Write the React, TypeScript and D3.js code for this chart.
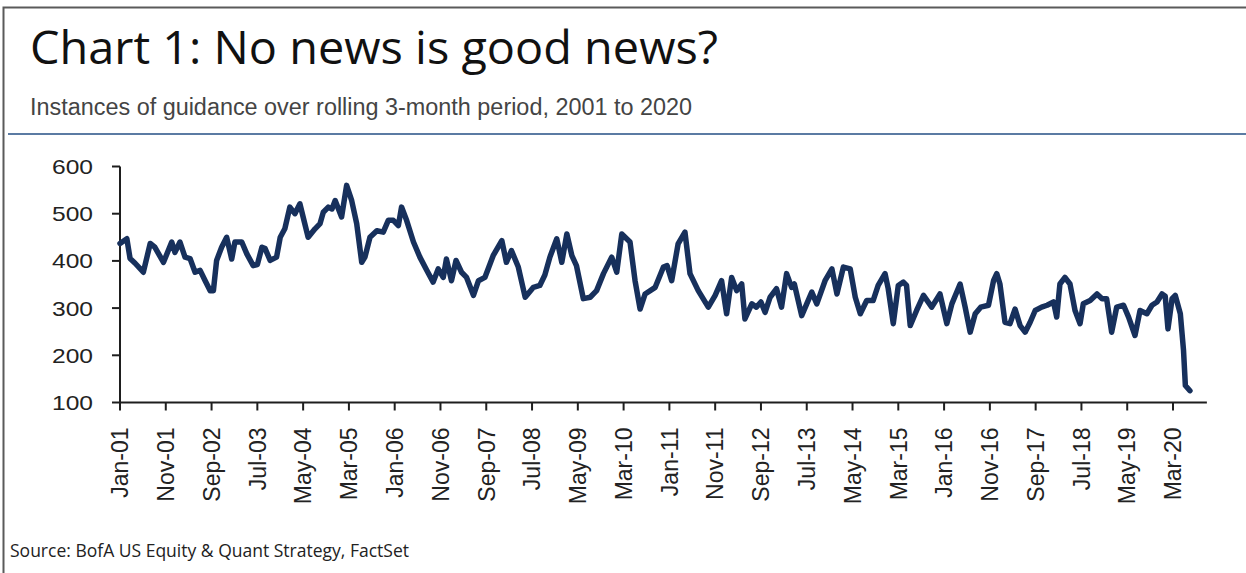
import React from "react";
import * as d3 from "d3";

// Months since Jan-2001 (fractional) and the guidance counts
const months = [
  0, 1.5, 2.2, 3.3, 5.1, 6.6, 7.6, 9.5, 11.3, 12, 13.1, 14.2, 15.3, 16.4, 17.5, 18.6, 19.7, 20.4,
  21.1, 22.2, 23.3, 24.4, 25.1, 26.6, 27.7, 29.1, 30, 31, 31.7, 32.8, 34.2, 35, 36, 37.1, 38.2,
  39.3, 40, 41.1, 42.6, 43.7, 44.4, 45.5, 46.3, 47, 48.4, 49.5, 50.6, 51.7, 52.8, 53.5, 54.6,
  56.1, 57.5, 58.6, 59.7, 60.8, 61.5, 62.6, 64.1, 65.5, 67, 68.4, 69.5, 70.6, 71.3, 72.4, 73.4,
  74.6, 75.7, 77.2, 78.3, 79.7, 81.5, 83.4, 84.4, 85.5, 87, 88.5, 90.3, 91.7, 92.8, 93.9, 95.4,
  96.5, 97.6, 98.7, 99.7, 101.2, 102.7, 104.1, 105.6, 107.4, 108.5, 109.6, 111.4, 112.5, 113.6,
  114.7, 116.9, 118.7, 119.5, 120.5, 121.9, 123.4, 124.5, 126.3, 128.5, 130, 131.4, 132.5, 133.6,
  134.7, 135.8, 136.5, 138, 139, 140, 140.9, 142, 143.4, 144.5, 145.6, 146.7, 147.3, 148.9, 150,
  151.1, 152.2, 154, 155.5, 156.6, 158, 159.5, 160.6, 161.7, 163.1, 164.5, 165.6, 167.1, 167.8,
  168.9, 170, 171.1, 171.8, 172.6, 174, 175.5, 177.3, 179.1, 180.6, 181.7, 183.5, 184.6, 185.7,
  186.8, 188, 189.7, 190.8, 191.5, 192.2, 193.3, 194.4, 195.5, 196.6, 197.7, 198.8, 199.9, 201.3,
  202.5, 203.9, 204.6, 205.3, 206.4, 207.5, 208.6, 209.7, 210.4, 211.9, 213.4, 214.5, 215.5,
  216.6, 217.7, 219.2, 220.3, 221.7, 222.8, 224.3, 225.4, 226.5, 227.6, 228.3, 228.9, 229.8,
  230.5, 231.6, 232.3, 232.7, 233.7,
];
const values = [
  437, 447, 405, 395, 376, 437, 429, 397, 440, 418, 440, 408, 405, 376, 380, 358, 337, 337,
  401, 429, 450, 404, 440, 440, 415, 390, 392, 429, 426, 401, 408, 450, 468, 514, 500,
  521, 493, 450, 468, 479, 503, 514, 510, 528, 493, 560, 528, 479, 397, 408, 450,
  464, 461, 486, 486, 475, 514, 486, 440, 408, 380, 355, 383, 365, 404, 358, 401,
  376, 365, 327, 358, 365, 411, 443, 397, 422, 387, 323, 344, 348, 370, 408, 447,
  397, 457, 411, 390, 320, 323, 337, 373, 408, 376, 457, 440, 358, 298,
  330, 344, 387, 390, 358, 436, 461, 373, 337, 302, 327, 358, 288, 365,
  337, 351, 277, 309, 302, 313, 291, 323, 341, 302, 373, 344, 351, 284, 309,
  334, 309, 358, 383, 330, 387, 383, 323, 288, 316, 316, 348, 373, 341,
  267, 348, 355, 348, 263, 295, 327, 302, 330, 267, 309, 351, 302, 249,
  288, 302, 306, 358, 373, 351, 270, 267, 298, 263, 249, 270, 295, 302,
  306, 313, 281, 351, 365, 351, 295, 267, 309, 316, 330, 320, 320,
  249, 302, 306, 281, 242, 295, 288, 306, 313, 330, 325, 256, 320,
  327, 288, 210, 136, 125,
];

const xTickLabels = [
  "Jan-01", "Nov-01", "Sep-02", "Jul-03", "May-04", "Mar-05", "Jan-06", "Nov-06", "Sep-07",
  "Jul-08", "May-09", "Mar-10", "Jan-11", "Nov-11", "Sep-12", "Jul-13", "May-14", "Mar-15",
  "Jan-16", "Nov-16", "Sep-17", "Jul-18", "May-19", "Mar-20",
];
const xTickMonths = xTickLabels.map((_, i) => i * 10);
const yTicks = [100, 200, 300, 400, 500, 600];

const TITLE = "Chart 1: No news is good news?";
const SUBTITLE = "Instances of guidance over rolling 3-month period, 2001 to 2020";
const SOURCE = "Source: BofA US Equity & Quant Strategy, FactSet";

export default function App() {
  const W = 1246;
  const H = 573;
  const x = d3.scaleLinear().domain([0, 230]).range([120, 1173]);
  const y = d3.scaleLinear().domain([100, 600]).range([402.5, 166.5]);
  const xEnd = 237.4;
  const line = d3
    .line<number>()
    .x((_, i) => x(months[i]))
    .y((d) => y(d));

  const axisColor = "#1e1e1e";
  const tickFont = "'Liberation Sans', Arial, sans-serif";

  return (
    <svg
      width={W}
      height={H}
      viewBox={`0 0 ${W} ${H}`}
      style={{ position: "absolute", left: 0, top: 0, background: "#fff" }}
    >
      <rect x={0} y={0} width={W} height={H} fill="#fff" />
      {/* frame */}
      <rect x={3.5} y={7.5} width={W + 10} height={H + 10} fill="none" stroke="#5a5a5a" strokeWidth={2} />

      {/* title block */}
      <text
        x={30}
        y={64}
        fontFamily="'Open Sans', 'Noto Sans', sans-serif"
        fontSize={45}
        fill="#111"
        textLength={688}
        lengthAdjust="spacingAndGlyphs"
      >
        {TITLE}
      </text>
      <text
        x={30}
        y={115}
        fontFamily="'Liberation Sans Narrow', 'Liberation Sans', Arial, sans-serif"
        fontSize={23}
        fill="#444"
        textLength={662}
        lengthAdjust="spacingAndGlyphs"
      >
        {SUBTITLE}
      </text>
      <line x1={8} x2={W} y1={134} y2={134} stroke="#5b7ba3" strokeWidth={2.2} />

      {/* y axis */}
      <line x1={x(0)} x2={x(0)} y1={y(600)} y2={y(100)} stroke={axisColor} strokeWidth={2} />
      {yTicks.map((t) => (
        <g key={t}>
          <line x1={x(0) - 8} x2={x(0)} y1={y(t)} y2={y(t)} stroke={axisColor} strokeWidth={2} />
          <text
            x={93}
            y={y(t)}
            dy="0.36em"
            textAnchor="end"
            fontFamily={tickFont}
            fontSize={21}
            fill="#222"
            textLength={41}
            lengthAdjust="spacingAndGlyphs"
          >
            {t}
          </text>
        </g>
      ))}

      {/* x axis */}
      <line x1={x(0)} x2={x(xEnd)} y1={y(100)} y2={y(100)} stroke={axisColor} strokeWidth={2} />
      {xTickMonths.map((m, i) => (
        <g key={m}>
          <line x1={x(m)} x2={x(m)} y1={y(100)} y2={y(100) + 8} stroke={axisColor} strokeWidth={2} />
          <text
            transform={`translate(${x(m)},${y(100) + 25}) rotate(-90)`}
            dy="0.36em"
            textAnchor="end"
            fontFamily={tickFont}
            fontSize={23}
            fill="#222"
          >
            {xTickLabels[i]}
          </text>
        </g>
      ))}

      {/* series */}
      <path
        d={line(values) || ""}
        fill="none"
        stroke="#17305c"
        strokeWidth={5.5}
        strokeLinejoin="round"
        strokeLinecap="round"
      />

      {/* source */}
      <text
        x={10}
        y={557}
        fontFamily="'Open Sans', 'Noto Sans', sans-serif"
        fontSize={19}
        fill="#222"
        textLength={399}
        lengthAdjust="spacingAndGlyphs"
      >
        {SOURCE}
      </text>
    </svg>
  );
}
